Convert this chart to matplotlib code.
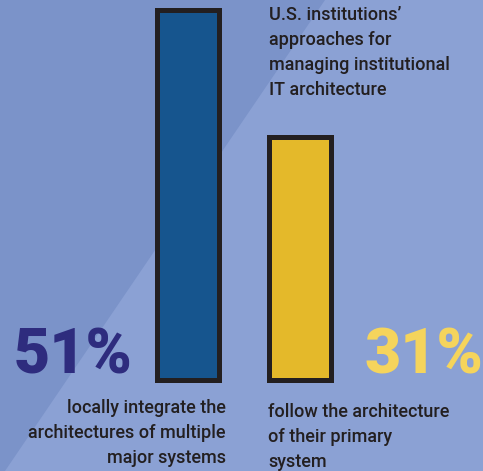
import matplotlib
matplotlib.use("Agg")
import matplotlib.pyplot as plt
from matplotlib.patches import Polygon

# ---- data ----
categories = ["locally integrate the\narchitectures of multiple\nmajor systems",
              "follow the architecture\nof their primary\nsystem"]
values = [51, 31]
value_labels = ["51%", "31%"]
title = "U.S. institutions’\napproaches for\nmanaging institutional\nIT architecture"

# ---- style ----
W, H, DPI = 483, 471, 100
bg_light = "#8ba1d4"
bg_dark = "#7b93c9"
bar_colors = ["#16558e", "#e4b92a"]
pct_colors = ["#2e2c7e", "#f5d45c"]
edge = "#231f20"
text_col = "#231f20"
font = "Roboto"

fig = plt.figure(figsize=(W / DPI, H / DPI), dpi=DPI)
fig.patch.set_facecolor(bg_light)
ax = fig.add_axes([0, 0, 1, 1])
ax.set_facecolor(bg_light)

# diagonal darker band (upper-left)
ax.add_patch(Polygon([(0, 1), (325 / W, 1), (5 / W, 0), (0, 0)],
                     closed=True, transform=ax.transAxes,
                     facecolor=bg_dark, edgecolor="none", zorder=0))

base = -7
x = list(range(len(values)))
ax.bar(x, [v - base for v in values], bottom=base, width=0.556,
       color=bar_colors, edgecolor=edge, linewidth=3.6, zorder=2)

ax.set_xlim(-1.69, 2.641)
ax.set_ylim(-21.15, 52.49)
ax.axis("off")

# percentage labels
ax.text(14 / W, 1 - 373 / H, value_labels[0], transform=ax.transAxes,
        ha="left", va="baseline", fontsize=45, fontfamily=font,
        fontweight="black", color=pct_colors[0])
ax.text(483 / W, 1 - 373 / H, value_labels[1], transform=ax.transAxes,
        ha="right", va="baseline", fontsize=45, fontfamily=font,
        fontweight="black", color=pct_colors[1])

# category labels
ax.text(226 / W, 1 - 399 / H, categories[0], transform=ax.transAxes,
        ha="right", va="top", fontsize=13, fontfamily=font, fontweight="medium",
        color=text_col, linespacing=1.5, multialignment="right")
ax.text(268 / W, 1 - 403 / H, categories[1], transform=ax.transAxes,
        ha="left", va="top", fontsize=13, fontfamily=font, fontweight="medium",
        color=text_col, linespacing=1.5, multialignment="left")

# title
ax.text(269 / W, 1 - 6 / H, title, transform=ax.transAxes,
        ha="left", va="top", fontsize=13, fontfamily=font, fontweight="medium",
        color=text_col, linespacing=1.5)

fig.savefig("out.png", dpi=DPI, facecolor=fig.get_facecolor())
